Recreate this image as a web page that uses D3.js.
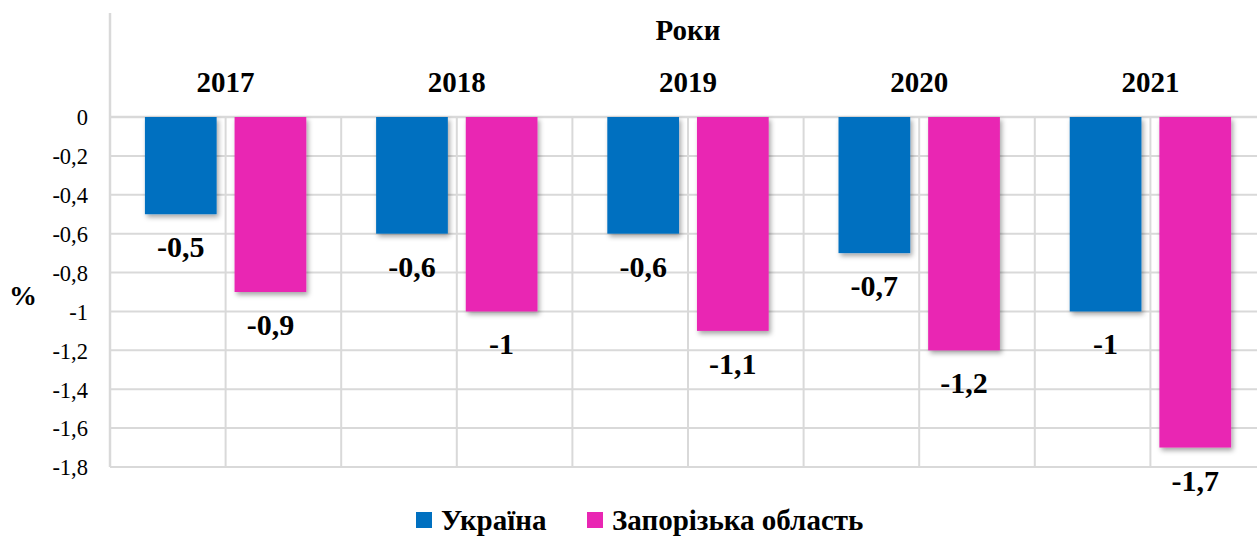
<!DOCTYPE html>
<html>
<head>
<meta charset="utf-8">
<script src="https://cdn.jsdelivr.net/npm/d3@7"></script>
<style>
  body { margin: 0; background: #fff; }
</style>
</head>
<body>
<div id="chart"></div>
<script>
// chart data
var years = ["2017", "2018", "2019", "2020", "2021"];
var seriesNames = ["Україна", "Запорізька область"];
var ukraine = [-0.5, -0.6, -0.6, -0.7, -1];
var zaporizhzhia = [-0.9, -1, -1.1, -1.2, -1.7];
var yTicks = [0, -0.2, -0.4, -0.6, -0.8, -1, -1.2, -1.4, -1.6, -1.8];
var colors = ["#0070C0", "#E926B3"];

var data = years.map(function(y, i) {
    return {year: y, values: [ukraine[i], zaporizhzhia[i]]};
});

var FONT = "'Liberation Serif', 'Times New Roman', 'DejaVu Serif', serif";

var width = 1257, height = 538;
var margin = {top: 117, left: 110, bottom: 71};
var plotW = 1156, plotH = height - margin.top - margin.bottom;

var locale = d3.formatLocale({decimal: ",", thousands: " ", grouping: [3], currency: ["", ""], minus: "-"});
var fmt = locale.format("~g");

var svg = d3.select("#chart").append("svg")
    .attr("width", width)
    .attr("height", height)
    .attr("font-family", FONT);

var defs = svg.append("defs");
defs.append("filter")
    .attr("id", "shadow")
    .attr("x", "-20%").attr("y", "-20%")
    .attr("width", "150%").attr("height", "150%")
    .append("feDropShadow")
    .attr("dx", 2).attr("dy", 3)
    .attr("stdDeviation", 2.5)
    .attr("flood-color", "#000")
    .attr("flood-opacity", 0.35);

var g = svg.append("g")
    .attr("transform", "translate(" + margin.left + "," + margin.top + ")");

// scales
var x0 = d3.scaleBand()
    .domain(years)
    .range([0, plotW])
    .padding(0);

var x1 = d3.scaleBand()
    .domain(seriesNames)
    .range([x0.bandwidth() * 0.151, x0.bandwidth() * 0.849])
    .paddingInner(0.2);

var y = d3.scaleLinear()
    .domain([0, -1.8])
    .range([0, plotH]);

// gridlines
var gridColor = "#d9d9d9";
g.append("g").selectAll("line.h")
    .data(yTicks)
    .enter().append("line")
    .attr("x1", 0).attr("x2", plotW)
    .attr("y1", function(d) { return y(d); })
    .attr("y2", function(d) { return y(d); })
    .attr("stroke", gridColor)
    .attr("stroke-width", function(d) { return d === 0 ? 2.5 : 2; });

var vLines = [];
years.forEach(function(yr) {
    vLines.push(x0(yr));
    vLines.push(x0(yr) + x0.bandwidth() / 2);
});
vLines.push(plotW);

g.append("g").selectAll("line.v")
    .data(vLines)
    .enter().append("line")
    .attr("x1", function(d) { return d; })
    .attr("x2", function(d) { return d; })
    .attr("y1", 0).attr("y2", plotH)
    .attr("stroke", gridColor)
    .attr("stroke-width", 2);

// left axis line runs up to the top
g.append("line")
    .attr("x1", 0).attr("x2", 0)
    .attr("y1", 13 - margin.top).attr("y2", plotH)
    .attr("stroke", gridColor)
    .attr("stroke-width", 2.5);

// y axis
var yAxis = d3.axisLeft(y)
    .tickValues(yTicks)
    .tickFormat(fmt)
    .tickSize(0)
    .tickPadding(22);

var yAxisG = g.append("g").call(yAxis).attr("font-family", FONT);
yAxisG.select(".domain").remove();
yAxisG.selectAll("text")
    .style("font-family", FONT)
    .style("font-size", "22.5px")
    .style("fill", "#000")
    .attr("dy", "0.35em");

// top axis with years
var xAxis = d3.axisTop(x0).tickSize(0).tickPadding(25);
var xAxisG = g.append("g").call(xAxis).attr("font-family", FONT);
xAxisG.select(".domain").remove();
xAxisG.selectAll("text")
    .style("font-family", FONT)
    .style("font-size", "29px")
    .style("font-weight", "bold")
    .style("fill", "#000");

svg.append("text")
    .attr("x", margin.left + plotW / 2)
    .attr("y", 40)
    .attr("text-anchor", "middle")
    .style("font-family", FONT)
    .style("font-size", "29px")
    .style("font-weight", "bold")
    .text("Роки");

svg.append("text")
    .attr("x", 23)
    .attr("y", 305)
    .attr("text-anchor", "middle")
    .style("font-family", FONT)
    .style("font-size", "28px")
    .style("font-weight", "bold")
    .text("%");

// bars
var groups = g.selectAll("g.year")
    .data(data)
    .enter().append("g")
    .attr("class", "year")
    .attr("transform", function(d) { return "translate(" + x0(d.year) + ",0)"; });

groups.selectAll("rect")
    .data(function(d) { return d.values.map(function(v, i) { return {name: seriesNames[i], value: v, i: i}; }); })
    .enter().append("rect")
    .attr("x", function(d) { return x1(d.name); })
    .attr("y", y(0))
    .attr("width", x1.bandwidth())
    .attr("height", function(d) { return y(d.value) - y(0); })
    .attr("fill", function(d) { return colors[d.i]; })
    .attr("filter", "url(#shadow)");

groups.selectAll("text.lbl")
    .data(function(d) { return d.values.map(function(v, i) { return {name: seriesNames[i], value: v, i: i}; }); })
    .enter().append("text")
    .attr("class", "lbl")
    .attr("x", function(d) { return x1(d.name) + x1.bandwidth() / 2; })
    .attr("y", function(d) { return y(d.value) + 43; })
    .attr("text-anchor", "middle")
    .style("font-family", FONT)
    .style("font-size", "30px")
    .style("font-weight", "bold")
    .text(function(d) { return fmt(d.value); });

// legend
var legend = svg.append("g").attr("transform", "translate(416,0)");
var legendX = [0, 171];
seriesNames.forEach(function(name, i) {
    var item = legend.append("g").attr("transform", "translate(" + legendX[i] + ",0)");
    item.append("rect")
        .attr("x", 0).attr("y", 512)
        .attr("width", 16).attr("height", 16)
        .attr("fill", colors[i]);
    item.append("text")
        .attr("x", 25).attr("y", 530)
        .style("font-family", FONT)
        .style("font-size", "29px")
        .style("font-weight", "bold")
        .text(name);
});
</script>
</body>
</html>
